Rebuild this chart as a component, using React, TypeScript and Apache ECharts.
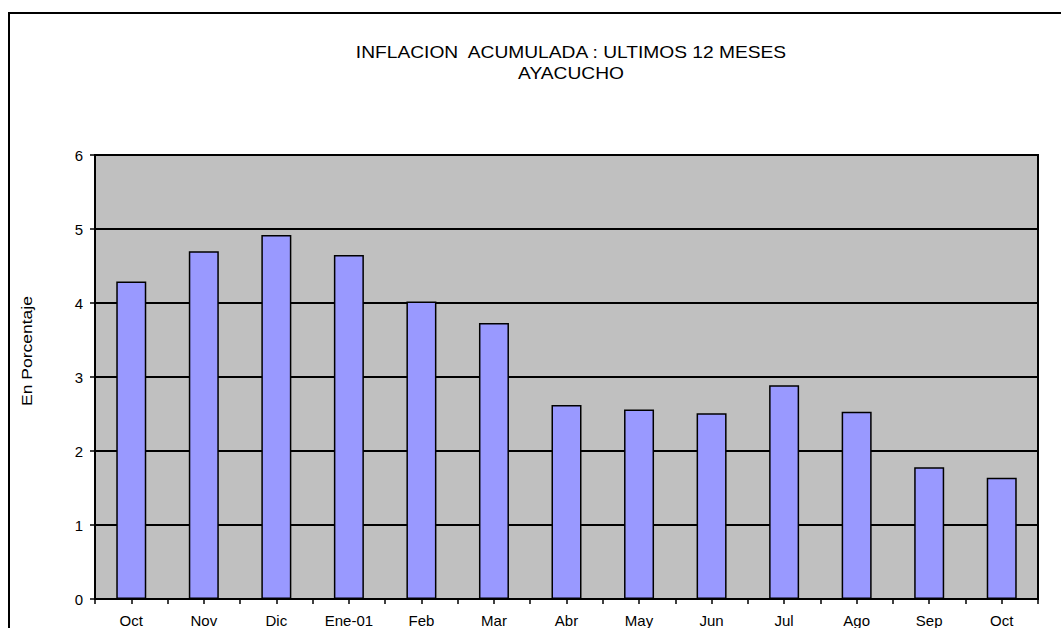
import React, { useEffect, useRef } from "react";
import * as echarts from "echarts";

const categories = ["Oct", "Nov", "Dic", "Ene-01", "Feb", "Mar", "Abr", "May", "Jun", "Jul", "Ago", "Sep", "Oct"];
const values = [4.29, 4.7, 4.92, 4.65, 4.02, 3.73, 2.62, 2.56, 2.51, 2.89, 2.53, 1.78, 1.64];
const titleLines = ["INFLACION  ACUMULADA : ULTIMOS 12 MESES", "AYACUCHO"];
const yAxisTitle = "En Porcentaje";

const FONT = "Arial, 'Liberation Sans', sans-serif";

export default function App() {
  const ref = useRef<HTMLDivElement>(null);
  useEffect(() => {
    const chart = echarts.init(ref.current!, null, { renderer: "svg" });
    chart.setOption({
      animation: false,
      backgroundColor: "#ffffff",
      grid: { left: 95, right: 23, top: 155, bottom: 29, show: true, backgroundColor: "#C0C0C0", borderColor: "#000", borderWidth: 2 },
      graphic: [
        { type: "rect", shape: { x: 9, y: 13, width: 1100, height: 700 }, style: { fill: "none", stroke: "#000", lineWidth: 2 }, z: 100 },
        { type: "text", x: 571, y: 53, scaleX: 1.2, style: { text: titleLines[0], font: `16px ${FONT}`, fill: "#000", textAlign: "center", textVerticalAlign: "middle" } },
        { type: "text", x: 571, y: 74, scaleX: 1.2, style: { text: titleLines[1], font: `16px ${FONT}`, fill: "#000", textAlign: "center", textVerticalAlign: "middle" } },
        { type: "text", x: 27, y: 351, rotation: Math.PI / 2, scaleX: 1.25, style: { text: yAxisTitle, font: `14px ${FONT}`, fill: "#000", textAlign: "center", textVerticalAlign: "middle" } },
      ],
      xAxis: [
        {
          type: "category",
          data: categories,
          axisLine: { show: true, lineStyle: { color: "#000", width: 2 } },
          axisTick: { show: true, alignWithLabel: false, length: 5, lineStyle: { color: "#000", width: 1.5 } },
          axisLabel: { color: "#000", fontSize: 15, fontFamily: FONT, margin: 14, interval: 0 },
          splitLine: { show: false },
        },
        {
          type: "category",
          data: categories,
          position: "bottom",
          axisLine: { show: false },
          axisTick: { show: true, alignWithLabel: true, length: 5, lineStyle: { color: "#000", width: 1.5 } },
          axisLabel: { show: false },
          splitLine: { show: false },
        },
      ],
      yAxis: {
        type: "value",
        min: 0,
        max: 6,
        interval: 1,
        axisLine: { show: true, lineStyle: { color: "#000", width: 2 } },
        axisTick: { show: true, length: 5, lineStyle: { color: "#000", width: 1.5 } },
        axisLabel: { color: "#000", fontSize: 15, fontFamily: FONT, margin: 12 },
        splitLine: { show: true, lineStyle: { color: "#000", width: 2 } },
      },
      series: [
        {
          type: "bar",
          xAxisIndex: 0,
          data: values,
          barWidth: 30,
          itemStyle: { color: "#9999FF", borderColor: "#000", borderWidth: 1.5 },
        },
      ],
    });
    return () => chart.dispose();
  }, []);
  return <div ref={ref} style={{ position: "fixed", left: 0, top: 0, width: 1061, height: 628 }} />;
}
